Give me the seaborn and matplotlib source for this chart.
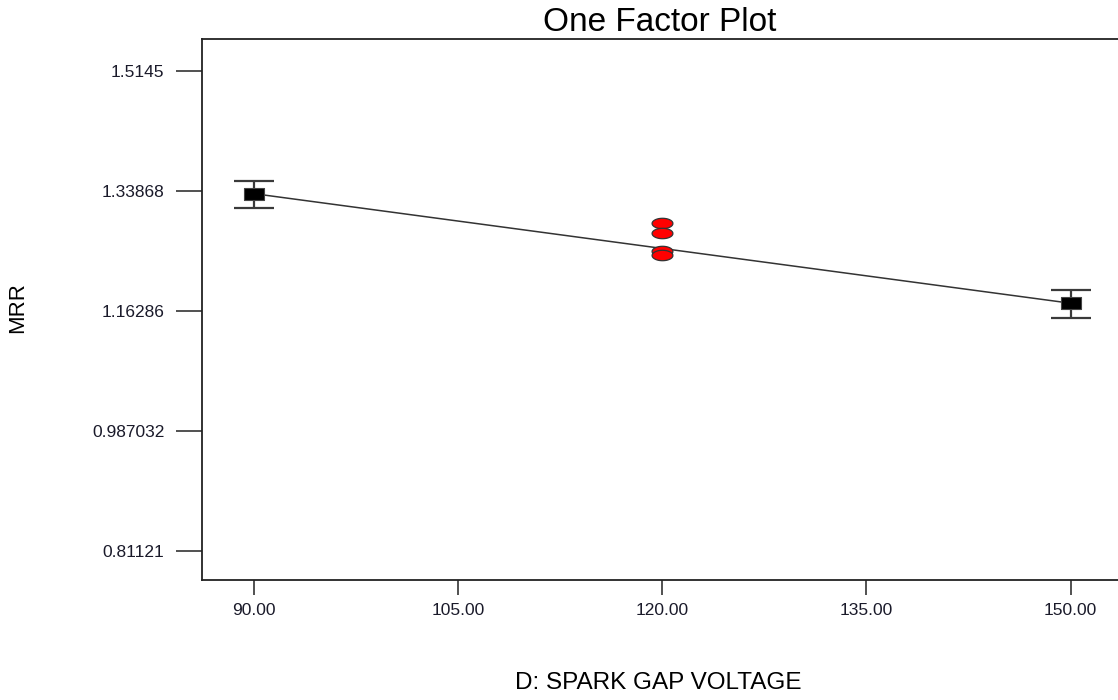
import matplotlib
matplotlib.use("Agg")
import matplotlib.pyplot as plt
import seaborn as sns
import numpy as np
import pandas as pd

# ---- data ----
levels = [90.0, 150.0]
means = [1.3343, 1.1738]
lsd_low = [1.3138, 1.1526]
lsd_high = [1.3533, 1.1927]
center_x = [120.0, 120.0, 120.0, 120.0]
center_y = [1.2909, 1.2763, 1.2508, 1.2445]
x_ticks = [90, 105, 120, 135, 150]
x_tick_labels = ["90.00", "105.00", "120.00", "135.00", "150.00"]
y_ticks = [0.81121, 0.987032, 1.16286, 1.33868, 1.5145]
y_tick_labels = ["0.81121", "0.987032", "1.16286", "1.33868", "1.5145"]
title = "One Factor Plot"
x_label = "D: SPARK GAP VOLTAGE"
y_label = "MRR"

sns.set_style("ticks")
plt.rcParams['font.family'] = ['Liberation Sans', 'DejaVu Sans']

fig = plt.figure(figsize=(11.18, 7.0), dpi=100)
ax = fig.add_axes([0.1804, 0.1714, 0.8196, 0.7725])

line_df = pd.DataFrame({"x": levels, "y": means})
sns.lineplot(data=line_df, x="x", y="y", ax=ax, color="#333333", linewidth=1.1, zorder=2)

# error bars (LSD)
yerr = np.array([np.array(means) - np.array(lsd_low), np.array(lsd_high) - np.array(means)])
ax.errorbar(levels, means, yerr=yerr, fmt="none", ecolor="#3a3a3a", elinewidth=1.6,
            capsize=14.4, capthick=1.6, zorder=3)

rect = [(-1, -0.55), (1, -0.55), (1, 0.55), (-1, 0.55), (-1, -0.55)]
sq_df = pd.DataFrame({"x": levels, "y": means})
sns.scatterplot(data=sq_df, x="x", y="y", ax=ax, marker=rect, s=14.8**2,
                color="black", edgecolor="#444444", linewidth=0.8, zorder=4)

t = np.linspace(0, 2 * np.pi, 60)
ell = list(zip(np.cos(t), 0.5 * np.sin(t)))
pt_df = pd.DataFrame({"x": center_x, "y": center_y})
sns.scatterplot(data=pt_df, x="x", y="y", ax=ax, marker=ell, s=15.0**2,
                color="#ff0000", edgecolor="#333333", linewidth=0.9, zorder=5)

ax.set_xlim(86.16, 153.48)
ax.set_ylim(0.7683, 1.5605)
ax.set_xticks(x_ticks)
ax.set_xticklabels(x_tick_labels)
ax.set_yticks(y_ticks)
ax.set_yticklabels(y_tick_labels)
ax.tick_params(axis="y", length=18.7, width=1.2, pad=8, labelsize=12.5,
               color="#333333", labelcolor="#1a1a2a")
ax.tick_params(axis="x", length=10.8, width=1.2, pad=6, labelsize=12.5,
               color="#333333", labelcolor="#1a1a2a")
for s in ["left", "bottom", "top"]:
    ax.spines[s].set_linewidth(1.3)
    ax.spines[s].set_color("#222222")
ax.spines["right"].set_visible(False)

ax.set_title(title, fontsize=24, pad=6, color="black")
ax.set_xlabel("")
ax.set_ylabel("")
fig.text(658 / 1118, 1 - 683 / 700, x_label, ha="center", va="center",
         fontsize=17.5, color="black")
fig.text(18 / 1118, 1 - 308 / 700, y_label, ha="center", va="center", rotation=90,
         fontsize=16, color="black")

fig.savefig("out.png", dpi=100)
